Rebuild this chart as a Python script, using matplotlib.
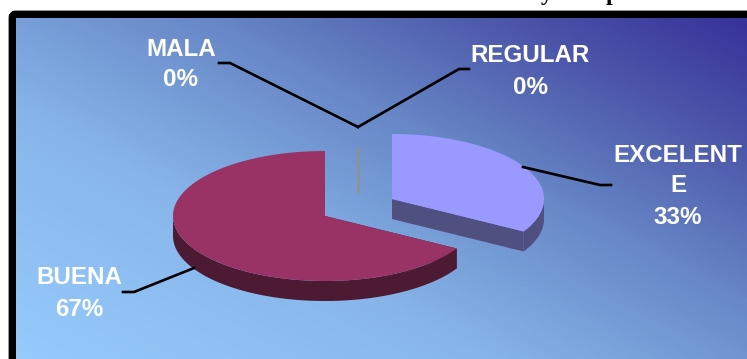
import numpy as np
import matplotlib
matplotlib.use('Agg')
import matplotlib.pyplot as plt
from matplotlib.patches import Polygon, FancyBboxPatch
from matplotlib.colors import LinearSegmentedColormap

# datos de la encuesta
categorias = ['EXCELENTE', 'REGULAR', 'MALA', 'BUENA']
valores = [33.33, 0, 0, 66.67]
porcentajes = ['33%', '0%', '0%', '67%']
colores_top = {'EXCELENTE': '#9999ff', 'BUENA': '#993366'}
colores_lado = {'EXCELENTE': '#4f4f80', 'BUENA': '#4d1a33'}

W, H = 747, 359
RX, RY, DEPTH = 152, 65, 20

fig = plt.figure(figsize=(W/100, H/100), dpi=100)
ax = fig.add_axes([0, 0, 1, 1])
ax.set_xlim(0, W)
ax.set_ylim(H, 0)
ax.axis('off')

# marco negro
marco = FancyBboxPatch((12.5, 14.5), W, H + 20, boxstyle='round,pad=0,rounding_size=3',
                       fc='#9cc8f5', ec='black', lw=5.6, zorder=1)
ax.add_patch(marco)

# fondo degradado
xx, yy = np.meshgrid(np.linspace(0, 1, 200), np.linspace(0, 1, 100))
t = np.clip(0.62 * xx + 0.55 * (1 - yy) + 0.03, 0, 1.2) / 1.2
cmap = LinearSegmentedColormap.from_list('fondo', [(0, '#97ccfd'), (0.35, '#88b6ea'),
                                                   (0.62, '#6787c6'), (0.82, '#4d58aa'), (1, '#38329a')])
ax.imshow(t, extent=(16, W, H, 18), cmap=cmap, vmin=0, vmax=1, aspect='auto', zorder=2)
ax.set_xlim(0, W)
ax.set_ylim(H, 0)


def punto(cx, cy, ang):
    # angulo en grados, horario desde arriba
    a = np.radians(ang)
    return cx + RX * np.sin(a), cy - RY * np.cos(a)


def rebanada(cx, cy, a0, a1, top, lado, z):
    angs = np.linspace(a0, a1, 200)
    px, py = punto(cx, cy, angs)
    # pared curva: solo la parte frontal
    front = (angs >= 90) & (angs <= 270)
    if front.any():
        fx, fy = px[front], py[front]
        ax.add_patch(Polygon(np.r_[np.c_[fx, fy], np.c_[fx[::-1], fy[::-1] + DEPTH]],
                             fc=lado, ec='none', zorder=z))
    # pared recta del inicio y del final si se ve de frente
    for a in (a0, a1):
        ex, ey = punto(cx, cy, a)
        if (a == a1 and a1 < 180) or (a == a0 and a0 > 90):
            ax.add_patch(Polygon([(cx, cy), (ex, ey), (ex, ey + DEPTH), (cx, cy + DEPTH)],
                                 fc=lado, ec='none', zorder=z))
    ax.add_patch(Polygon(np.r_[[(cx, cy)], np.c_[px, py]], fc=top, ec='none', zorder=z + 0.5))


centros = {'EXCELENTE': (392, 199), 'BUENA': (325, 216)}
total = sum(valores)
ang = 0
for cat, val in zip(categorias, valores):
    span = 360 * val / total
    if val > 0:
        cx, cy = centros[cat]
        rebanada(cx, cy, ang, ang + span, colores_top[cat], colores_lado[cat], 4)
    ang += span

# rebanadas de 0 %
ax.plot([358.3, 358.3], [147, 192], color='#a3905c', lw=1, zorder=4)

# lineas guia
guias = [
    ([523, 600, 611], [167, 185, 185]),
    ([358, 459, 469], [127, 69, 69]),
    ([358, 230, 219], [127, 63, 63]),
    ([194, 134, 123], [268, 292, 292]),
]
for gx, gy in guias:
    ax.plot(gx, gy, color='black', lw=1.9, zorder=6, solid_joinstyle='miter')

# etiquetas
etiquetas = [
    (678, 155, 'EXCELENT'), (678, 186, 'E'), (678, 218, porcentajes[0]),
    (530, 55, 'REGULAR'), (530, 87, porcentajes[1]),
    (181, 49, 'MALA'), (181, 80, porcentajes[2]),
    (79, 278, 'BUENA'), (79, 309, porcentajes[3]),
]
for x, y, s in etiquetas:
    ax.text(x, y, s, color='white', fontsize=17.4, fontweight='bold', family='Liberation Sans',
            ha='center', va='center', zorder=7)

# titulo cortado arriba
for x, s in [(547, 'y'), (612, 'p')]:
    ax.text(x, 0, s, color='black', fontsize=17, fontweight='bold', family='Liberation Serif',
            ha='center', va='baseline', zorder=7)

fig.savefig('out.png', dpi=100)
